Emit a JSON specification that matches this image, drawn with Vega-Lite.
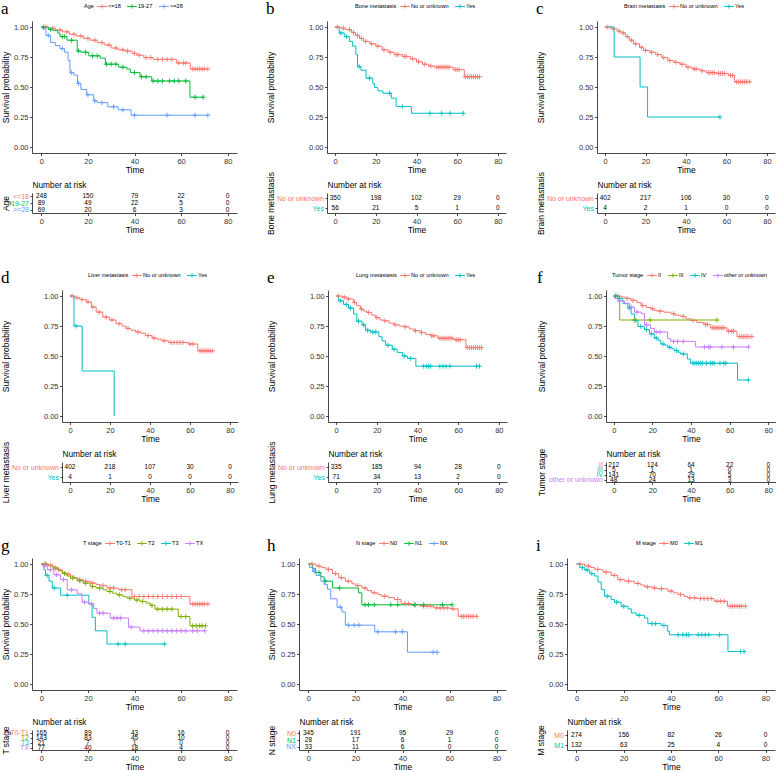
{
"$schema": "https://vega.github.io/schema/vega-lite/v6.json",
"padding": 0,
"config": {
 "font": "Liberation Sans",
 "view": {"stroke": null},
 "axis": {"grid": false, "domainColor": "#1a1a1a", "domainWidth": 0.8, "tickColor": "#1a1a1a", "tickWidth": 0.8, "tickSize": 2.5, "labelColor": "#333333", "labelFontSize": 7.5, "labelPadding": 1.5, "titleColor": "#000000", "titleFontSize": 8.5, "titleFontWeight": "normal", "titlePadding": 1, "labelFlush": false},
 "legend": {"orient": "none", "legendY": -19, "direction": "horizontal", "titleOrient": "left", "labelFontSize": 5.6, "titleFontSize": 5.6, "titleFontWeight": "normal", "titleColor": "#000000", "labelColor": "#000000", "symbolType": "M-1.4,0H1.4M0,-0.6V0.6", "symbolSize": 49, "symbolStrokeWidth": 1, "columnPadding": 4, "labelOffset": 2, "titlePadding": 4, "padding": 0},
 "title": {"fontWeight": "normal", "color": "#000000"}
},
"datasets": {
 "a": [
  {"g":"<=18","t":0,"s":1},{"g":"<=18","t":2,"s":1,"c":1},{"g":"<=18","t":3,"s":0.99},{"g":"<=18","t":5,"s":0.99,"c":1},{"g":"<=18","t":6,"s":0.975},{"g":"<=18","t":8,"s":0.975,"c":1},{"g":"<=18","t":9,"s":0.96},{"g":"<=18","t":11,"s":0.96,"c":1},{"g":"<=18","t":12,"s":0.94},{"g":"<=18","t":14,"s":0.94,"c":1},{"g":"<=18","t":15,"s":0.925},{"g":"<=18","t":17,"s":0.925,"c":1},{"g":"<=18","t":18,"s":0.905},{"g":"<=18","t":20,"s":0.905,"c":1},{"g":"<=18","t":21,"s":0.89},{"g":"<=18","t":23,"s":0.89,"c":1},{"g":"<=18","t":24,"s":0.87},{"g":"<=18","t":26,"s":0.87,"c":1},{"g":"<=18","t":27,"s":0.85},{"g":"<=18","t":29,"s":0.85,"c":1},{"g":"<=18","t":30,"s":0.825},{"g":"<=18","t":32,"s":0.825,"c":1},{"g":"<=18","t":33,"s":0.81},{"g":"<=18","t":35,"s":0.81,"c":1},{"g":"<=18","t":36,"s":0.8},{"g":"<=18","t":37,"s":0.8,"c":1},{"g":"<=18","t":39,"s":0.78},{"g":"<=18","t":40,"s":0.78,"c":1},{"g":"<=18","t":41,"s":0.765},{"g":"<=18","t":42,"s":0.765,"c":1},{"g":"<=18","t":44,"s":0.745},{"g":"<=18","t":45,"s":0.745,"c":1},{"g":"<=18","t":47,"s":0.745,"c":1},{"g":"<=18","t":48,"s":0.73},{"g":"<=18","t":50,"s":0.73,"c":1},{"g":"<=18","t":52,"s":0.73,"c":1},{"g":"<=18","t":54,"s":0.73,"c":1},{"g":"<=18","t":56,"s":0.73,"c":1},{"g":"<=18","t":58,"s":0.7},{"g":"<=18","t":59,"s":0.7,"c":1},{"g":"<=18","t":61,"s":0.7,"c":1},{"g":"<=18","t":62,"s":0.7,"c":1},{"g":"<=18","t":64,"s":0.65},{"g":"<=18","t":65,"s":0.65,"c":1},{"g":"<=18","t":66,"s":0.65,"c":1},{"g":"<=18","t":67,"s":0.65,"c":1},{"g":"<=18","t":68,"s":0.65,"c":1},{"g":"<=18","t":69,"s":0.65,"c":1},{"g":"<=18","t":70,"s":0.65,"c":1},{"g":"<=18","t":71.5,"s":0.65,"c":1},
  {"g":"19-27","t":0,"s":1},{"g":"19-27","t":1,"s":1,"c":1},{"g":"19-27","t":3,"s":0.98},{"g":"19-27","t":4,"s":0.98,"c":1},{"g":"19-27","t":5,"s":0.97},{"g":"19-27","t":7,"s":0.95},{"g":"19-27","t":8,"s":0.92},{"g":"19-27","t":9,"s":0.92,"c":1},{"g":"19-27","t":10,"s":0.92,"c":1},{"g":"19-27","t":11,"s":0.89},{"g":"19-27","t":13,"s":0.89,"c":1},{"g":"19-27","t":15.4,"s":0.8},{"g":"19-27","t":16,"s":0.8,"c":1},{"g":"19-27","t":17,"s":0.79},{"g":"19-27","t":19,"s":0.79,"c":1},{"g":"19-27","t":20.4,"s":0.76},{"g":"19-27","t":22,"s":0.76,"c":1},{"g":"19-27","t":24,"s":0.76,"c":1},{"g":"19-27","t":25.3,"s":0.74},{"g":"19-27","t":27.5,"s":0.69},{"g":"19-27","t":28,"s":0.69,"c":1},{"g":"19-27","t":30,"s":0.69,"c":1},{"g":"19-27","t":32,"s":0.69,"c":1},{"g":"19-27","t":33.2,"s":0.665},{"g":"19-27","t":35,"s":0.665,"c":1},{"g":"19-27","t":36.7,"s":0.65},{"g":"19-27","t":38.2,"s":0.62},{"g":"19-27","t":40,"s":0.62,"c":1},{"g":"19-27","t":42.4,"s":0.585},{"g":"19-27","t":43,"s":0.585,"c":1},{"g":"19-27","t":45,"s":0.585,"c":1},{"g":"19-27","t":47.4,"s":0.55},{"g":"19-27","t":48,"s":0.55,"c":1},{"g":"19-27","t":50,"s":0.55,"c":1},{"g":"19-27","t":52,"s":0.55,"c":1},{"g":"19-27","t":55,"s":0.55,"c":1},{"g":"19-27","t":57,"s":0.55,"c":1},{"g":"19-27","t":59,"s":0.55,"c":1},{"g":"19-27","t":62,"s":0.55,"c":1},{"g":"19-27","t":63.8,"s":0.415},{"g":"19-27","t":66,"s":0.415,"c":1},{"g":"19-27","t":69.5,"s":0.415,"c":1},
  {"g":">=28","t":0,"s":1},{"g":">=28","t":0.5,"s":0.985},{"g":">=28","t":2,"s":0.93},{"g":">=28","t":3,"s":0.93,"c":1},{"g":">=28","t":4,"s":0.87},{"g":">=28","t":6,"s":0.845},{"g":">=28","t":8,"s":0.82},{"g":">=28","t":9,"s":0.82,"c":1},{"g":">=28","t":10,"s":0.79},{"g":">=28","t":11.5,"s":0.72},{"g":">=28","t":12.3,"s":0.62},{"g":">=28","t":13,"s":0.62,"c":1},{"g":">=28","t":14,"s":0.6},{"g":">=28","t":15.5,"s":0.53},{"g":">=28","t":16,"s":0.53,"c":1},{"g":">=28","t":17,"s":0.48},{"g":">=28","t":19.5,"s":0.435},{"g":">=28","t":20,"s":0.435,"c":1},{"g":">=28","t":22.5,"s":0.385},{"g":">=28","t":23,"s":0.385,"c":1},{"g":">=28","t":24,"s":0.37},{"g":">=28","t":26,"s":0.37,"c":1},{"g":">=28","t":28.5,"s":0.335},{"g":">=28","t":31,"s":0.335,"c":1},{"g":">=28","t":33,"s":0.31},{"g":">=28","t":35,"s":0.31,"c":1},{"g":">=28","t":38.5,"s":0.265},{"g":">=28","t":40,"s":0.265,"c":1},{"g":">=28","t":54,"s":0.265,"c":1},{"g":">=28","t":66,"s":0.265,"c":1},{"g":">=28","t":71.5,"s":0.265,"c":1}
 ],
 "ra": [
  {"g":"<=18","t":0,"n":248},{"g":"<=18","t":20,"n":150},{"g":"<=18","t":40,"n":79},{"g":"<=18","t":60,"n":22},{"g":"<=18","t":80,"n":0},
  {"g":"19-27","t":0,"n":89},{"g":"19-27","t":20,"n":49},{"g":"19-27","t":40,"n":22},{"g":"19-27","t":60,"n":5},{"g":"19-27","t":80,"n":0},
  {"g":">=28","t":0,"n":69},{"g":">=28","t":20,"n":20},{"g":">=28","t":40,"n":6},{"g":">=28","t":60,"n":3},{"g":">=28","t":80,"n":0}
 ],
 "b": [
  {"g":"No or unknown","t":0,"s":1},{"g":"No or unknown","t":1,"s":1,"c":1},{"g":"No or unknown","t":3,"s":0.99},{"g":"No or unknown","t":4,"s":0.99,"c":1},{"g":"No or unknown","t":5,"s":0.978},{"g":"No or unknown","t":7,"s":0.978,"c":1},{"g":"No or unknown","t":8,"s":0.955},{"g":"No or unknown","t":9,"s":0.955,"c":1},{"g":"No or unknown","t":10,"s":0.93},{"g":"No or unknown","t":11,"s":0.93,"c":1},{"g":"No or unknown","t":12,"s":0.905},{"g":"No or unknown","t":13,"s":0.905,"c":1},{"g":"No or unknown","t":14,"s":0.88},{"g":"No or unknown","t":15,"s":0.88,"c":1},{"g":"No or unknown","t":17,"s":0.86},{"g":"No or unknown","t":18,"s":0.86,"c":1},{"g":"No or unknown","t":20,"s":0.84},{"g":"No or unknown","t":21,"s":0.84,"c":1},{"g":"No or unknown","t":23,"s":0.81},{"g":"No or unknown","t":24,"s":0.81,"c":1},{"g":"No or unknown","t":26,"s":0.79},{"g":"No or unknown","t":27,"s":0.79,"c":1},{"g":"No or unknown","t":29,"s":0.77},{"g":"No or unknown","t":30,"s":0.77,"c":1},{"g":"No or unknown","t":31,"s":0.77,"c":1},{"g":"No or unknown","t":33,"s":0.755},{"g":"No or unknown","t":34,"s":0.755,"c":1},{"g":"No or unknown","t":35,"s":0.755,"c":1},{"g":"No or unknown","t":37,"s":0.735},{"g":"No or unknown","t":38,"s":0.735,"c":1},{"g":"No or unknown","t":40,"s":0.71},{"g":"No or unknown","t":41,"s":0.71,"c":1},{"g":"No or unknown","t":43,"s":0.69},{"g":"No or unknown","t":44,"s":0.69,"c":1},{"g":"No or unknown","t":46,"s":0.675},{"g":"No or unknown","t":47,"s":0.675,"c":1},{"g":"No or unknown","t":49,"s":0.665},{"g":"No or unknown","t":50,"s":0.665,"c":1},{"g":"No or unknown","t":51,"s":0.665,"c":1},{"g":"No or unknown","t":52,"s":0.665,"c":1},{"g":"No or unknown","t":53,"s":0.665,"c":1},{"g":"No or unknown","t":54,"s":0.665,"c":1},{"g":"No or unknown","t":55,"s":0.665,"c":1},{"g":"No or unknown","t":56,"s":0.665,"c":1},{"g":"No or unknown","t":58,"s":0.645},{"g":"No or unknown","t":59,"s":0.645,"c":1},{"g":"No or unknown","t":60,"s":0.645,"c":1},{"g":"No or unknown","t":61,"s":0.645,"c":1},{"g":"No or unknown","t":63.5,"s":0.585},{"g":"No or unknown","t":64,"s":0.585,"c":1},{"g":"No or unknown","t":65,"s":0.585,"c":1},{"g":"No or unknown","t":66,"s":0.585,"c":1},{"g":"No or unknown","t":67,"s":0.585,"c":1},{"g":"No or unknown","t":68,"s":0.585,"c":1},{"g":"No or unknown","t":69,"s":0.585,"c":1},{"g":"No or unknown","t":70,"s":0.585,"c":1},{"g":"No or unknown","t":71,"s":0.585,"c":1},
  {"g":"Yes","t":0,"s":1},{"g":"Yes","t":2,"s":0.95},{"g":"Yes","t":2.8,"s":0.95,"c":1},{"g":"Yes","t":4.5,"s":0.92},{"g":"Yes","t":5.6,"s":0.92,"c":1},{"g":"Yes","t":7,"s":0.88},{"g":"Yes","t":8.6,"s":0.84},{"g":"Yes","t":10.2,"s":0.77},{"g":"Yes","t":11,"s":0.67},{"g":"Yes","t":11.8,"s":0.67,"c":1},{"g":"Yes","t":12.7,"s":0.64},{"g":"Yes","t":15.2,"s":0.574},{"g":"Yes","t":16.9,"s":0.574,"c":1},{"g":"Yes","t":18.5,"s":0.53},{"g":"Yes","t":19.3,"s":0.496},{"g":"Yes","t":21,"s":0.468},{"g":"Yes","t":23.5,"s":0.448},{"g":"Yes","t":26.8,"s":0.448,"c":1},{"g":"Yes","t":27.6,"s":0.407},{"g":"Yes","t":30,"s":0.337},{"g":"Yes","t":33,"s":0.337,"c":1},{"g":"Yes","t":37.5,"s":0.281},{"g":"Yes","t":46.6,"s":0.281,"c":1},{"g":"Yes","t":52.4,"s":0.281,"c":1},{"g":"Yes","t":56.5,"s":0.281,"c":1},{"g":"Yes","t":63,"s":0.281,"c":1}
 ],
 "rb": [
  {"g":"No or unknown","t":0,"n":350},{"g":"No or unknown","t":20,"n":198},{"g":"No or unknown","t":40,"n":102},{"g":"No or unknown","t":60,"n":29},{"g":"No or unknown","t":80,"n":0},
  {"g":"Yes","t":0,"n":56},{"g":"Yes","t":20,"n":21},{"g":"Yes","t":40,"n":5},{"g":"Yes","t":60,"n":1},{"g":"Yes","t":80,"n":0}
 ],
 "c": [
  {"g":"No or unknown","t":0,"s":1},{"g":"No or unknown","t":1,"s":1,"c":1},{"g":"No or unknown","t":3,"s":0.985},{"g":"No or unknown","t":4,"s":0.985,"c":1},{"g":"No or unknown","t":6,"s":0.965},{"g":"No or unknown","t":7,"s":0.965,"c":1},{"g":"No or unknown","t":8,"s":0.95},{"g":"No or unknown","t":9,"s":0.95,"c":1},{"g":"No or unknown","t":10,"s":0.92},{"g":"No or unknown","t":11,"s":0.92,"c":1},{"g":"No or unknown","t":12,"s":0.89},{"g":"No or unknown","t":13,"s":0.89,"c":1},{"g":"No or unknown","t":14,"s":0.86},{"g":"No or unknown","t":15,"s":0.86,"c":1},{"g":"No or unknown","t":17,"s":0.83},{"g":"No or unknown","t":18,"s":0.83,"c":1},{"g":"No or unknown","t":19,"s":0.805},{"g":"No or unknown","t":20,"s":0.805,"c":1},{"g":"No or unknown","t":22,"s":0.79},{"g":"No or unknown","t":23,"s":0.79,"c":1},{"g":"No or unknown","t":25,"s":0.77},{"g":"No or unknown","t":26,"s":0.77,"c":1},{"g":"No or unknown","t":28,"s":0.745},{"g":"No or unknown","t":29,"s":0.745,"c":1},{"g":"No or unknown","t":31,"s":0.72},{"g":"No or unknown","t":32,"s":0.72,"c":1},{"g":"No or unknown","t":34,"s":0.705},{"g":"No or unknown","t":35,"s":0.705,"c":1},{"g":"No or unknown","t":37,"s":0.69},{"g":"No or unknown","t":38,"s":0.69,"c":1},{"g":"No or unknown","t":40,"s":0.665},{"g":"No or unknown","t":41,"s":0.665,"c":1},{"g":"No or unknown","t":43,"s":0.65},{"g":"No or unknown","t":44,"s":0.65,"c":1},{"g":"No or unknown","t":45,"s":0.65,"c":1},{"g":"No or unknown","t":47,"s":0.635},{"g":"No or unknown","t":48,"s":0.635,"c":1},{"g":"No or unknown","t":50,"s":0.62},{"g":"No or unknown","t":51,"s":0.62,"c":1},{"g":"No or unknown","t":52,"s":0.62,"c":1},{"g":"No or unknown","t":53,"s":0.62,"c":1},{"g":"No or unknown","t":54,"s":0.62,"c":1},{"g":"No or unknown","t":55,"s":0.613},{"g":"No or unknown","t":56,"s":0.613,"c":1},{"g":"No or unknown","t":57,"s":0.613,"c":1},{"g":"No or unknown","t":58,"s":0.613,"c":1},{"g":"No or unknown","t":59,"s":0.613,"c":1},{"g":"No or unknown","t":61,"s":0.597},{"g":"No or unknown","t":62,"s":0.597,"c":1},{"g":"No or unknown","t":63,"s":0.597,"c":1},{"g":"No or unknown","t":64,"s":0.543},{"g":"No or unknown","t":65,"s":0.543,"c":1},{"g":"No or unknown","t":66,"s":0.543,"c":1},{"g":"No or unknown","t":67,"s":0.543,"c":1},{"g":"No or unknown","t":68,"s":0.543,"c":1},{"g":"No or unknown","t":69,"s":0.543,"c":1},{"g":"No or unknown","t":70,"s":0.543,"c":1},{"g":"No or unknown","t":71.5,"s":0.543,"c":1},
  {"g":"Yes","t":0,"s":1},{"g":"Yes","t":4.5,"s":0.75},{"g":"Yes","t":17.3,"s":0.5},{"g":"Yes","t":21,"s":0.25},{"g":"Yes","t":56.8,"s":0.25,"c":1}
 ],
 "rc": [
  {"g":"No or unknown","t":0,"n":402},{"g":"No or unknown","t":20,"n":217},{"g":"No or unknown","t":40,"n":106},{"g":"No or unknown","t":60,"n":30},{"g":"No or unknown","t":80,"n":0},
  {"g":"Yes","t":0,"n":4},{"g":"Yes","t":20,"n":2},{"g":"Yes","t":40,"n":1},{"g":"Yes","t":60,"n":0},{"g":"Yes","t":80,"n":0}
 ],
 "d": [
  {"g":"No or unknown","t":0,"s":1},{"g":"No or unknown","t":1,"s":1,"c":1},{"g":"No or unknown","t":2.5,"s":0.985},{"g":"No or unknown","t":3.5,"s":0.985,"c":1},{"g":"No or unknown","t":4.9,"s":0.97},{"g":"No or unknown","t":6,"s":0.97,"c":1},{"g":"No or unknown","t":8.2,"s":0.95},{"g":"No or unknown","t":9,"s":0.95,"c":1},{"g":"No or unknown","t":10.7,"s":0.908},{"g":"No or unknown","t":11.5,"s":0.908,"c":1},{"g":"No or unknown","t":13.1,"s":0.866},{"g":"No or unknown","t":14.5,"s":0.866,"c":1},{"g":"No or unknown","t":16.4,"s":0.824},{"g":"No or unknown","t":18,"s":0.824,"c":1},{"g":"No or unknown","t":19.7,"s":0.8},{"g":"No or unknown","t":21,"s":0.8,"c":1},{"g":"No or unknown","t":23,"s":0.77},{"g":"No or unknown","t":24.5,"s":0.77,"c":1},{"g":"No or unknown","t":26,"s":0.75},{"g":"No or unknown","t":27.9,"s":0.73},{"g":"No or unknown","t":29,"s":0.73,"c":1},{"g":"No or unknown","t":30.5,"s":0.715},{"g":"No or unknown","t":32.8,"s":0.7},{"g":"No or unknown","t":34,"s":0.7,"c":1},{"g":"No or unknown","t":35.5,"s":0.69},{"g":"No or unknown","t":37.7,"s":0.67},{"g":"No or unknown","t":39,"s":0.67,"c":1},{"g":"No or unknown","t":41,"s":0.65},{"g":"No or unknown","t":42,"s":0.65,"c":1},{"g":"No or unknown","t":43.5,"s":0.64},{"g":"No or unknown","t":45.9,"s":0.627},{"g":"No or unknown","t":47,"s":0.627,"c":1},{"g":"No or unknown","t":49.2,"s":0.613},{"g":"No or unknown","t":50.5,"s":0.613,"c":1},{"g":"No or unknown","t":52,"s":0.613,"c":1},{"g":"No or unknown","t":53.5,"s":0.613,"c":1},{"g":"No or unknown","t":55,"s":0.613,"c":1},{"g":"No or unknown","t":56.5,"s":0.613,"c":1},{"g":"No or unknown","t":59,"s":0.6},{"g":"No or unknown","t":60,"s":0.6,"c":1},{"g":"No or unknown","t":61.5,"s":0.6,"c":1},{"g":"No or unknown","t":63.9,"s":0.543},{"g":"No or unknown","t":65,"s":0.543,"c":1},{"g":"No or unknown","t":66,"s":0.543,"c":1},{"g":"No or unknown","t":67,"s":0.543,"c":1},{"g":"No or unknown","t":68,"s":0.543,"c":1},{"g":"No or unknown","t":69,"s":0.543,"c":1},{"g":"No or unknown","t":70,"s":0.543,"c":1},{"g":"No or unknown","t":71.3,"s":0.543,"c":1},
  {"g":"Yes","t":0,"s":1},{"g":"Yes","t":2,"s":0.75},{"g":"Yes","t":3,"s":0.75,"c":1},{"g":"Yes","t":6.1,"s":0.375},{"g":"Yes","t":22.1,"s":0}
 ],
 "rd": [
  {"g":"No or unknown","t":0,"n":402},{"g":"No or unknown","t":20,"n":218},{"g":"No or unknown","t":40,"n":107},{"g":"No or unknown","t":60,"n":30},{"g":"No or unknown","t":80,"n":0},
  {"g":"Yes","t":0,"n":4},{"g":"Yes","t":20,"n":1},{"g":"Yes","t":40,"n":0},{"g":"Yes","t":60,"n":0},{"g":"Yes","t":80,"n":0}
 ],
 "e": [
  {"g":"No or unknown","t":0,"s":1},{"g":"No or unknown","t":1,"s":1,"c":1},{"g":"No or unknown","t":3,"s":0.99},{"g":"No or unknown","t":4,"s":0.99,"c":1},{"g":"No or unknown","t":5.3,"s":0.975},{"g":"No or unknown","t":6,"s":0.975,"c":1},{"g":"No or unknown","t":8.6,"s":0.947},{"g":"No or unknown","t":9,"s":0.947,"c":1},{"g":"No or unknown","t":10,"s":0.92},{"g":"No or unknown","t":11.9,"s":0.89},{"g":"No or unknown","t":12.5,"s":0.89,"c":1},{"g":"No or unknown","t":13.5,"s":0.875},{"g":"No or unknown","t":15.2,"s":0.863},{"g":"No or unknown","t":16,"s":0.863,"c":1},{"g":"No or unknown","t":17.5,"s":0.84},{"g":"No or unknown","t":19.3,"s":0.82},{"g":"No or unknown","t":20,"s":0.82,"c":1},{"g":"No or unknown","t":21.5,"s":0.8},{"g":"No or unknown","t":23.5,"s":0.793},{"g":"No or unknown","t":24,"s":0.793,"c":1},{"g":"No or unknown","t":26,"s":0.775},{"g":"No or unknown","t":28.4,"s":0.76},{"g":"No or unknown","t":29,"s":0.76,"c":1},{"g":"No or unknown","t":31,"s":0.75},{"g":"No or unknown","t":33.4,"s":0.743},{"g":"No or unknown","t":34,"s":0.743,"c":1},{"g":"No or unknown","t":36,"s":0.725},{"g":"No or unknown","t":38.3,"s":0.71},{"g":"No or unknown","t":39,"s":0.71,"c":1},{"g":"No or unknown","t":41.7,"s":0.695},{"g":"No or unknown","t":42,"s":0.695,"c":1},{"g":"No or unknown","t":44,"s":0.68},{"g":"No or unknown","t":46.6,"s":0.668},{"g":"No or unknown","t":47,"s":0.668,"c":1},{"g":"No or unknown","t":48,"s":0.668,"c":1},{"g":"No or unknown","t":50,"s":0.648},{"g":"No or unknown","t":51,"s":0.648,"c":1},{"g":"No or unknown","t":52,"s":0.648,"c":1},{"g":"No or unknown","t":53,"s":0.648,"c":1},{"g":"No or unknown","t":54,"s":0.648,"c":1},{"g":"No or unknown","t":55,"s":0.648,"c":1},{"g":"No or unknown","t":56,"s":0.648,"c":1},{"g":"No or unknown","t":57,"s":0.648,"c":1},{"g":"No or unknown","t":58,"s":0.635},{"g":"No or unknown","t":59,"s":0.635,"c":1},{"g":"No or unknown","t":60,"s":0.635,"c":1},{"g":"No or unknown","t":61,"s":0.635,"c":1},{"g":"No or unknown","t":63.8,"s":0.57},{"g":"No or unknown","t":64.5,"s":0.57,"c":1},{"g":"No or unknown","t":65.5,"s":0.57,"c":1},{"g":"No or unknown","t":66.5,"s":0.57,"c":1},{"g":"No or unknown","t":67.5,"s":0.57,"c":1},{"g":"No or unknown","t":68.5,"s":0.57,"c":1},{"g":"No or unknown","t":69.5,"s":0.57,"c":1},{"g":"No or unknown","t":70.5,"s":0.57,"c":1},{"g":"No or unknown","t":71.5,"s":0.57,"c":1},
  {"g":"Yes","t":0,"s":1},{"g":"Yes","t":1.2,"s":0.96},{"g":"Yes","t":2,"s":0.96,"c":1},{"g":"Yes","t":3.6,"s":0.93},{"g":"Yes","t":5,"s":0.93,"c":1},{"g":"Yes","t":6.1,"s":0.9},{"g":"Yes","t":7,"s":0.9,"c":1},{"g":"Yes","t":8.6,"s":0.85},{"g":"Yes","t":10.2,"s":0.79},{"g":"Yes","t":11,"s":0.79,"c":1},{"g":"Yes","t":12.7,"s":0.76},{"g":"Yes","t":13.5,"s":0.76,"c":1},{"g":"Yes","t":14.4,"s":0.715},{"g":"Yes","t":15.5,"s":0.715,"c":1},{"g":"Yes","t":16.9,"s":0.7},{"g":"Yes","t":18,"s":0.7,"c":1},{"g":"Yes","t":19.5,"s":0.7,"c":1},{"g":"Yes","t":21,"s":0.66},{"g":"Yes","t":22.6,"s":0.626},{"g":"Yes","t":24.3,"s":0.59},{"g":"Yes","t":25.5,"s":0.59,"c":1},{"g":"Yes","t":27.6,"s":0.556},{"g":"Yes","t":28.5,"s":0.556,"c":1},{"g":"Yes","t":30,"s":0.53},{"g":"Yes","t":32.6,"s":0.5},{"g":"Yes","t":33.5,"s":0.5,"c":1},{"g":"Yes","t":35,"s":0.48},{"g":"Yes","t":36.5,"s":0.48,"c":1},{"g":"Yes","t":39.2,"s":0.415},{"g":"Yes","t":43,"s":0.415,"c":1},{"g":"Yes","t":44.5,"s":0.415,"c":1},{"g":"Yes","t":45.5,"s":0.415,"c":1},{"g":"Yes","t":46.5,"s":0.415,"c":1},{"g":"Yes","t":51,"s":0.415,"c":1},{"g":"Yes","t":52.5,"s":0.415,"c":1},{"g":"Yes","t":54,"s":0.415,"c":1},{"g":"Yes","t":56,"s":0.415,"c":1},{"g":"Yes","t":69,"s":0.415,"c":1},{"g":"Yes","t":70.5,"s":0.415,"c":1}
 ],
 "re": [
  {"g":"No or unknown","t":0,"n":335},{"g":"No or unknown","t":20,"n":185},{"g":"No or unknown","t":40,"n":94},{"g":"No or unknown","t":60,"n":28},{"g":"No or unknown","t":80,"n":0},
  {"g":"Yes","t":0,"n":71},{"g":"Yes","t":20,"n":34},{"g":"Yes","t":40,"n":13},{"g":"Yes","t":60,"n":2},{"g":"Yes","t":80,"n":0}
 ],
 "f": [
  {"g":"II","t":0,"s":1},{"g":"II","t":2,"s":1,"c":1},{"g":"II","t":4,"s":0.99},{"g":"II","t":6,"s":0.98},{"g":"II","t":7,"s":0.98,"c":1},{"g":"II","t":9,"s":0.964},{"g":"II","t":10,"s":0.964,"c":1},{"g":"II","t":12,"s":0.945},{"g":"II","t":14.2,"s":0.92},{"g":"II","t":15,"s":0.92,"c":1},{"g":"II","t":17,"s":0.905},{"g":"II","t":19.3,"s":0.894},{"g":"II","t":20,"s":0.894,"c":1},{"g":"II","t":21,"s":0.88},{"g":"II","t":22.7,"s":0.874},{"g":"II","t":24,"s":0.874,"c":1},{"g":"II","t":26,"s":0.865},{"g":"II","t":29.6,"s":0.852},{"g":"II","t":31,"s":0.852,"c":1},{"g":"II","t":32,"s":0.84},{"g":"II","t":34.7,"s":0.83},{"g":"II","t":36,"s":0.83,"c":1},{"g":"II","t":37.5,"s":0.81},{"g":"II","t":39.8,"s":0.796},{"g":"II","t":41,"s":0.796,"c":1},{"g":"II","t":43,"s":0.78},{"g":"II","t":46.7,"s":0.763},{"g":"II","t":47.5,"s":0.763,"c":1},{"g":"II","t":48.5,"s":0.763,"c":1},{"g":"II","t":50,"s":0.735},{"g":"II","t":51,"s":0.735,"c":1},{"g":"II","t":52,"s":0.735,"c":1},{"g":"II","t":53,"s":0.735,"c":1},{"g":"II","t":54,"s":0.735,"c":1},{"g":"II","t":55,"s":0.735,"c":1},{"g":"II","t":56,"s":0.735,"c":1},{"g":"II","t":57,"s":0.735,"c":1},{"g":"II","t":58.6,"s":0.707},{"g":"II","t":59.5,"s":0.707,"c":1},{"g":"II","t":61,"s":0.707,"c":1},{"g":"II","t":62,"s":0.707,"c":1},{"g":"II","t":63.8,"s":0.662},{"g":"II","t":65,"s":0.662,"c":1},{"g":"II","t":66,"s":0.662,"c":1},{"g":"II","t":67,"s":0.662,"c":1},{"g":"II","t":68,"s":0.662,"c":1},{"g":"II","t":69,"s":0.662,"c":1},{"g":"II","t":70,"s":0.662,"c":1},{"g":"II","t":71.5,"s":0.662,"c":1},
  {"g":"III","t":0,"s":1},{"g":"III","t":1,"s":1,"c":1},{"g":"III","t":3.1,"s":0.8},{"g":"III","t":10.8,"s":0.8,"c":1},{"g":"III","t":18.8,"s":0.8,"c":1},{"g":"III","t":53.5,"s":0.8,"c":1},
  {"g":"IV","t":0,"s":1},{"g":"IV","t":1,"s":1,"c":1},{"g":"IV","t":2.2,"s":0.978},{"g":"IV","t":3,"s":0.978,"c":1},{"g":"IV","t":4.8,"s":0.936},{"g":"IV","t":7.3,"s":0.9},{"g":"IV","t":8,"s":0.9,"c":1},{"g":"IV","t":9,"s":0.85},{"g":"IV","t":10.8,"s":0.796},{"g":"IV","t":11.5,"s":0.796,"c":1},{"g":"IV","t":12.5,"s":0.746},{"g":"IV","t":14,"s":0.746,"c":1},{"g":"IV","t":15.9,"s":0.72},{"g":"IV","t":17,"s":0.72,"c":1},{"g":"IV","t":18.5,"s":0.684},{"g":"IV","t":19.5,"s":0.684,"c":1},{"g":"IV","t":21,"s":0.65},{"g":"IV","t":22,"s":0.65,"c":1},{"g":"IV","t":23,"s":0.63},{"g":"IV","t":24.4,"s":0.6},{"g":"IV","t":25.5,"s":0.6,"c":1},{"g":"IV","t":26.5,"s":0.59},{"g":"IV","t":27.9,"s":0.573},{"g":"IV","t":29,"s":0.573,"c":1},{"g":"IV","t":30,"s":0.56},{"g":"IV","t":31.3,"s":0.545},{"g":"IV","t":32.5,"s":0.545,"c":1},{"g":"IV","t":33.5,"s":0.53},{"g":"IV","t":34.7,"s":0.517},{"g":"IV","t":36,"s":0.517,"c":1},{"g":"IV","t":38.1,"s":0.475},{"g":"IV","t":39.8,"s":0.44},{"g":"IV","t":41,"s":0.44,"c":1},{"g":"IV","t":42,"s":0.44,"c":1},{"g":"IV","t":43,"s":0.44,"c":1},{"g":"IV","t":44,"s":0.44,"c":1},{"g":"IV","t":45,"s":0.44,"c":1},{"g":"IV","t":46,"s":0.44,"c":1},{"g":"IV","t":48,"s":0.44,"c":1},{"g":"IV","t":50,"s":0.44,"c":1},{"g":"IV","t":51,"s":0.44,"c":1},{"g":"IV","t":52,"s":0.44,"c":1},{"g":"IV","t":55,"s":0.44,"c":1},{"g":"IV","t":57,"s":0.44,"c":1},{"g":"IV","t":58,"s":0.44,"c":1},{"g":"IV","t":64.1,"s":0.3},{"g":"IV","t":69.7,"s":0.3,"c":1},
  {"g":"other or unknown","t":0,"s":1},{"g":"other or unknown","t":0.5,"s":0.98},{"g":"other or unknown","t":2.2,"s":0.958},{"g":"other or unknown","t":3,"s":0.958,"c":1},{"g":"other or unknown","t":5.6,"s":0.94},{"g":"other or unknown","t":8.2,"s":0.908},{"g":"other or unknown","t":9,"s":0.908,"c":1},{"g":"other or unknown","t":10.8,"s":0.866},{"g":"other or unknown","t":12,"s":0.866,"c":1},{"g":"other or unknown","t":14.2,"s":0.852},{"g":"other or unknown","t":15.9,"s":0.76},{"g":"other or unknown","t":17,"s":0.76,"c":1},{"g":"other or unknown","t":19,"s":0.73},{"g":"other or unknown","t":21,"s":0.7},{"g":"other or unknown","t":22,"s":0.7,"c":1},{"g":"other or unknown","t":24,"s":0.7,"c":1},{"g":"other or unknown","t":27.9,"s":0.643},{"g":"other or unknown","t":29.6,"s":0.622},{"g":"other or unknown","t":31,"s":0.622,"c":1},{"g":"other or unknown","t":33,"s":0.622,"c":1},{"g":"other or unknown","t":36,"s":0.622,"c":1},{"g":"other or unknown","t":42.4,"s":0.575},{"g":"other or unknown","t":47,"s":0.575,"c":1},{"g":"other or unknown","t":49,"s":0.575,"c":1},{"g":"other or unknown","t":50,"s":0.575,"c":1},{"g":"other or unknown","t":56,"s":0.575,"c":1},{"g":"other or unknown","t":62,"s":0.575,"c":1},{"g":"other or unknown","t":69.8,"s":0.575,"c":1}
 ],
 "rf": [
  {"g":"II","t":0,"n":212},{"g":"II","t":20,"n":124},{"g":"II","t":40,"n":64},{"g":"II","t":60,"n":22},{"g":"II","t":80,"n":0},
  {"g":"III","t":0,"n":5},{"g":"III","t":20,"n":1},{"g":"III","t":40,"n":1},{"g":"III","t":60,"n":0},{"g":"III","t":80,"n":0},
  {"g":"IV","t":0,"n":141},{"g":"IV","t":20,"n":70},{"g":"IV","t":40,"n":29},{"g":"IV","t":60,"n":5},{"g":"IV","t":80,"n":0},
  {"g":"other or unknown","t":0,"n":48},{"g":"other or unknown","t":20,"n":24},{"g":"other or unknown","t":40,"n":13},{"g":"other or unknown","t":60,"n":3},{"g":"other or unknown","t":80,"n":0}
 ],
 "g": [
  {"g":"T0-T1","t":0,"s":1},{"g":"T0-T1","t":2,"s":1,"c":1},{"g":"T0-T1","t":3,"s":0.99},{"g":"T0-T1","t":4,"s":0.99,"c":1},{"g":"T0-T1","t":5,"s":0.975},{"g":"T0-T1","t":6.8,"s":0.952},{"g":"T0-T1","t":7.5,"s":0.952,"c":1},{"g":"T0-T1","t":9,"s":0.93},{"g":"T0-T1","t":10.5,"s":0.915},{"g":"T0-T1","t":11.5,"s":0.915,"c":1},{"g":"T0-T1","t":12.5,"s":0.9},{"g":"T0-T1","t":14,"s":0.885},{"g":"T0-T1","t":15.4,"s":0.869},{"g":"T0-T1","t":16.5,"s":0.869,"c":1},{"g":"T0-T1","t":18,"s":0.855},{"g":"T0-T1","t":19,"s":0.855,"c":1},{"g":"T0-T1","t":21,"s":0.841},{"g":"T0-T1","t":22,"s":0.841,"c":1},{"g":"T0-T1","t":23.5,"s":0.83},{"g":"T0-T1","t":25.3,"s":0.82},{"g":"T0-T1","t":26.5,"s":0.82,"c":1},{"g":"T0-T1","t":28.2,"s":0.8},{"g":"T0-T1","t":29.5,"s":0.8,"c":1},{"g":"T0-T1","t":31,"s":0.8,"c":1},{"g":"T0-T1","t":33,"s":0.786},{"g":"T0-T1","t":34.5,"s":0.786,"c":1},{"g":"T0-T1","t":36,"s":0.786,"c":1},{"g":"T0-T1","t":38.9,"s":0.729},{"g":"T0-T1","t":40,"s":0.729,"c":1},{"g":"T0-T1","t":42,"s":0.729,"c":1},{"g":"T0-T1","t":44,"s":0.729,"c":1},{"g":"T0-T1","t":46,"s":0.729,"c":1},{"g":"T0-T1","t":48,"s":0.729,"c":1},{"g":"T0-T1","t":50,"s":0.729,"c":1},{"g":"T0-T1","t":52,"s":0.729,"c":1},{"g":"T0-T1","t":54,"s":0.729,"c":1},{"g":"T0-T1","t":56,"s":0.729,"c":1},{"g":"T0-T1","t":58,"s":0.729,"c":1},{"g":"T0-T1","t":60,"s":0.729,"c":1},{"g":"T0-T1","t":63.8,"s":0.666},{"g":"T0-T1","t":65,"s":0.666,"c":1},{"g":"T0-T1","t":66,"s":0.666,"c":1},{"g":"T0-T1","t":67,"s":0.666,"c":1},{"g":"T0-T1","t":68,"s":0.666,"c":1},{"g":"T0-T1","t":69,"s":0.666,"c":1},{"g":"T0-T1","t":70,"s":0.666,"c":1},{"g":"T0-T1","t":71.5,"s":0.666,"c":1},
  {"g":"T2","t":0,"s":1},{"g":"T2","t":1.5,"s":1,"c":1},{"g":"T2","t":3,"s":0.985},{"g":"T2","t":5,"s":0.965},{"g":"T2","t":6,"s":0.965,"c":1},{"g":"T2","t":7.5,"s":0.945},{"g":"T2","t":9,"s":0.92},{"g":"T2","t":10,"s":0.92,"c":1},{"g":"T2","t":11,"s":0.9},{"g":"T2","t":12.5,"s":0.883},{"g":"T2","t":13.5,"s":0.883,"c":1},{"g":"T2","t":15.4,"s":0.86},{"g":"T2","t":16.5,"s":0.86,"c":1},{"g":"T2","t":18,"s":0.84},{"g":"T2","t":19,"s":0.84,"c":1},{"g":"T2","t":21,"s":0.813},{"g":"T2","t":22,"s":0.813,"c":1},{"g":"T2","t":23.5,"s":0.8},{"g":"T2","t":25,"s":0.8,"c":1},{"g":"T2","t":26.5,"s":0.785},{"g":"T2","t":28.2,"s":0.771},{"g":"T2","t":29.5,"s":0.771,"c":1},{"g":"T2","t":30.5,"s":0.757},{"g":"T2","t":32.5,"s":0.743},{"g":"T2","t":33.5,"s":0.743,"c":1},{"g":"T2","t":35,"s":0.73},{"g":"T2","t":36.7,"s":0.716},{"g":"T2","t":38,"s":0.716,"c":1},{"g":"T2","t":40,"s":0.7},{"g":"T2","t":41,"s":0.7,"c":1},{"g":"T2","t":42.4,"s":0.688},{"g":"T2","t":43.5,"s":0.688,"c":1},{"g":"T2","t":45,"s":0.675},{"g":"T2","t":46.7,"s":0.655},{"g":"T2","t":47.5,"s":0.655,"c":1},{"g":"T2","t":48.8,"s":0.624},{"g":"T2","t":50,"s":0.624,"c":1},{"g":"T2","t":52,"s":0.624,"c":1},{"g":"T2","t":54,"s":0.624,"c":1},{"g":"T2","t":56,"s":0.624,"c":1},{"g":"T2","t":58.8,"s":0.562},{"g":"T2","t":60,"s":0.562,"c":1},{"g":"T2","t":62,"s":0.562,"c":1},{"g":"T2","t":63.8,"s":0.485},{"g":"T2","t":65,"s":0.485,"c":1},{"g":"T2","t":66.5,"s":0.485,"c":1},{"g":"T2","t":68,"s":0.485,"c":1},{"g":"T2","t":69,"s":0.485,"c":1},{"g":"T2","t":70.5,"s":0.485,"c":1},
  {"g":"T3","t":0,"s":1},{"g":"T3","t":1.1,"s":0.952},{"g":"T3","t":1.8,"s":0.905},{"g":"T3","t":2.5,"s":0.905,"c":1},{"g":"T3","t":3.3,"s":0.857},{"g":"T3","t":4.7,"s":0.8},{"g":"T3","t":5.5,"s":0.8,"c":1},{"g":"T3","t":8.3,"s":0.74},{"g":"T3","t":11.1,"s":0.74,"c":1},{"g":"T3","t":20.4,"s":0.667},{"g":"T3","t":21.8,"s":0.556},{"g":"T3","t":23.2,"s":0.443},{"g":"T3","t":28.2,"s":0.333},{"g":"T3","t":33,"s":0.333,"c":1},{"g":"T3","t":36,"s":0.333,"c":1},{"g":"T3","t":53,"s":0.333,"c":1},
  {"g":"TX","t":0,"s":1},{"g":"TX","t":0.5,"s":0.987},{"g":"TX","t":1.5,"s":0.987,"c":1},{"g":"TX","t":2.6,"s":0.953},{"g":"TX","t":4,"s":0.953,"c":1},{"g":"TX","t":5.4,"s":0.91},{"g":"TX","t":6.5,"s":0.91,"c":1},{"g":"TX","t":8.3,"s":0.87},{"g":"TX","t":9.5,"s":0.87,"c":1},{"g":"TX","t":11.1,"s":0.785},{"g":"TX","t":13,"s":0.785,"c":1},{"g":"TX","t":15.4,"s":0.752},{"g":"TX","t":17.5,"s":0.682},{"g":"TX","t":18.5,"s":0.682,"c":1},{"g":"TX","t":20.4,"s":0.668},{"g":"TX","t":21.5,"s":0.668,"c":1},{"g":"TX","t":22.5,"s":0.63},{"g":"TX","t":23.9,"s":0.59},{"g":"TX","t":25,"s":0.59,"c":1},{"g":"TX","t":26.5,"s":0.59,"c":1},{"g":"TX","t":29.6,"s":0.55},{"g":"TX","t":31,"s":0.55,"c":1},{"g":"TX","t":32.5,"s":0.55,"c":1},{"g":"TX","t":34,"s":0.55,"c":1},{"g":"TX","t":37.4,"s":0.474},{"g":"TX","t":38.5,"s":0.474,"c":1},{"g":"TX","t":42.4,"s":0.443},{"g":"TX","t":44,"s":0.443,"c":1},{"g":"TX","t":46,"s":0.443,"c":1},{"g":"TX","t":48,"s":0.443,"c":1},{"g":"TX","t":50,"s":0.443,"c":1},{"g":"TX","t":52,"s":0.443,"c":1},{"g":"TX","t":54,"s":0.443,"c":1},{"g":"TX","t":56,"s":0.443,"c":1},{"g":"TX","t":58,"s":0.443,"c":1},{"g":"TX","t":60,"s":0.443,"c":1},{"g":"TX","t":62,"s":0.443,"c":1},{"g":"TX","t":65,"s":0.443,"c":1},{"g":"TX","t":67,"s":0.443,"c":1},{"g":"TX","t":70.2,"s":0.443,"c":1}
 ],
 "rg": [
  {"g":"T0-T1","t":0,"n":165},{"g":"T0-T1","t":20,"n":89},{"g":"T0-T1","t":40,"n":43},{"g":"T0-T1","t":60,"n":16},{"g":"T0-T1","t":80,"n":0},
  {"g":"T2","t":0,"n":143},{"g":"T2","t":20,"n":83},{"g":"T2","t":40,"n":45},{"g":"T2","t":60,"n":10},{"g":"T2","t":80,"n":0},
  {"g":"T3","t":0,"n":21},{"g":"T3","t":20,"n":7},{"g":"T3","t":40,"n":1},{"g":"T3","t":60,"n":0},{"g":"T3","t":80,"n":0},
  {"g":"TX","t":0,"n":77},{"g":"TX","t":20,"n":40},{"g":"TX","t":40,"n":18},{"g":"TX","t":60,"n":4},{"g":"TX","t":80,"n":0}
 ],
 "h": [
  {"g":"N0","t":0,"s":1},{"g":"N0","t":1.5,"s":1,"c":1},{"g":"N0","t":3.2,"s":0.983},{"g":"N0","t":4.5,"s":0.983,"c":1},{"g":"N0","t":5.5,"s":0.97},{"g":"N0","t":7.4,"s":0.955},{"g":"N0","t":8.5,"s":0.955,"c":1},{"g":"N0","t":10.2,"s":0.92},{"g":"N0","t":11.5,"s":0.92,"c":1},{"g":"N0","t":12.9,"s":0.885},{"g":"N0","t":14,"s":0.885,"c":1},{"g":"N0","t":15.7,"s":0.857},{"g":"N0","t":17,"s":0.857,"c":1},{"g":"N0","t":18.5,"s":0.835},{"g":"N0","t":19.9,"s":0.82},{"g":"N0","t":21,"s":0.82,"c":1},{"g":"N0","t":22.7,"s":0.8},{"g":"N0","t":24,"s":0.8,"c":1},{"g":"N0","t":25,"s":0.78},{"g":"N0","t":26.8,"s":0.76},{"g":"N0","t":28,"s":0.76,"c":1},{"g":"N0","t":29.5,"s":0.745},{"g":"N0","t":31,"s":0.732},{"g":"N0","t":32.5,"s":0.732,"c":1},{"g":"N0","t":34,"s":0.72},{"g":"N0","t":36.6,"s":0.704},{"g":"N0","t":38,"s":0.704,"c":1},{"g":"N0","t":39.4,"s":0.67},{"g":"N0","t":41,"s":0.67,"c":1},{"g":"N0","t":42.5,"s":0.67,"c":1},{"g":"N0","t":44,"s":0.66},{"g":"N0","t":45.5,"s":0.66,"c":1},{"g":"N0","t":47.7,"s":0.648},{"g":"N0","t":49,"s":0.648,"c":1},{"g":"N0","t":50.5,"s":0.648,"c":1},{"g":"N0","t":52,"s":0.648,"c":1},{"g":"N0","t":53.3,"s":0.634},{"g":"N0","t":54.5,"s":0.634,"c":1},{"g":"N0","t":56,"s":0.634,"c":1},{"g":"N0","t":57.5,"s":0.634,"c":1},{"g":"N0","t":59,"s":0.634,"c":1},{"g":"N0","t":60.2,"s":0.626},{"g":"N0","t":61.5,"s":0.626,"c":1},{"g":"N0","t":63.7,"s":0.564},{"g":"N0","t":65,"s":0.564,"c":1},{"g":"N0","t":66,"s":0.564,"c":1},{"g":"N0","t":67,"s":0.564,"c":1},{"g":"N0","t":68,"s":0.564,"c":1},{"g":"N0","t":69,"s":0.564,"c":1},{"g":"N0","t":70,"s":0.564,"c":1},{"g":"N0","t":71.5,"s":0.564,"c":1},
  {"g":"N1","t":0,"s":1},{"g":"N1","t":1.8,"s":0.964},{"g":"N1","t":3,"s":0.929},{"g":"N1","t":4.5,"s":0.929,"c":1},{"g":"N1","t":5.3,"s":0.893},{"g":"N1","t":6.7,"s":0.857},{"g":"N1","t":7.2,"s":0.857,"c":1},{"g":"N1","t":10.2,"s":0.8},{"g":"N1","t":13.2,"s":0.8,"c":1},{"g":"N1","t":21.3,"s":0.76},{"g":"N1","t":22.7,"s":0.66},{"g":"N1","t":24,"s":0.66,"c":1},{"g":"N1","t":25.5,"s":0.66,"c":1},{"g":"N1","t":28,"s":0.66,"c":1},{"g":"N1","t":35,"s":0.66,"c":1},{"g":"N1","t":38,"s":0.66,"c":1},{"g":"N1","t":45,"s":0.66,"c":1},{"g":"N1","t":49,"s":0.66,"c":1},{"g":"N1","t":57,"s":0.66,"c":1},{"g":"N1","t":61,"s":0.66,"c":1},
  {"g":"NX","t":0,"s":1},{"g":"NX","t":0.5,"s":0.97},{"g":"NX","t":1.8,"s":0.94},{"g":"NX","t":2.5,"s":0.94,"c":1},{"g":"NX","t":3.2,"s":0.905},{"g":"NX","t":5.3,"s":0.857},{"g":"NX","t":6.7,"s":0.83},{"g":"NX","t":8.1,"s":0.79},{"g":"NX","t":9.5,"s":0.71},{"g":"NX","t":12.2,"s":0.64},{"g":"NX","t":13.6,"s":0.64,"c":1},{"g":"NX","t":14.3,"s":0.6},{"g":"NX","t":15.7,"s":0.49},{"g":"NX","t":17,"s":0.49,"c":1},{"g":"NX","t":19.5,"s":0.49,"c":1},{"g":"NX","t":21.5,"s":0.49,"c":1},{"g":"NX","t":28.2,"s":0.435},{"g":"NX","t":29.5,"s":0.435,"c":1},{"g":"NX","t":37,"s":0.435,"c":1},{"g":"NX","t":40,"s":0.435,"c":1},{"g":"NX","t":42.1,"s":0.265},{"g":"NX","t":53,"s":0.265,"c":1},{"g":"NX","t":54.7,"s":0.265,"c":1}
 ],
 "rh": [
  {"g":"N0","t":0,"n":345},{"g":"N0","t":20,"n":191},{"g":"N0","t":40,"n":95},{"g":"N0","t":60,"n":29},{"g":"N0","t":80,"n":0},
  {"g":"N1","t":0,"n":28},{"g":"N1","t":20,"n":17},{"g":"N1","t":40,"n":6},{"g":"N1","t":60,"n":1},{"g":"N1","t":80,"n":0},
  {"g":"NX","t":0,"n":33},{"g":"NX","t":20,"n":11},{"g":"NX","t":40,"n":6},{"g":"NX","t":60,"n":0},{"g":"NX","t":80,"n":0}
 ],
 "i": [
  {"g":"M0","t":0,"s":1},{"g":"M0","t":1.5,"s":1,"c":1},{"g":"M0","t":3.5,"s":0.983},{"g":"M0","t":5,"s":0.983,"c":1},{"g":"M0","t":6,"s":0.97},{"g":"M0","t":7.7,"s":0.955},{"g":"M0","t":9,"s":0.955,"c":1},{"g":"M0","t":11.2,"s":0.933},{"g":"M0","t":12.5,"s":0.933,"c":1},{"g":"M0","t":14.7,"s":0.905},{"g":"M0","t":16,"s":0.905,"c":1},{"g":"M0","t":17.5,"s":0.87},{"g":"M0","t":18.5,"s":0.87,"c":1},{"g":"M0","t":20.4,"s":0.857},{"g":"M0","t":22,"s":0.857,"c":1},{"g":"M0","t":24.6,"s":0.838},{"g":"M0","t":26,"s":0.838,"c":1},{"g":"M0","t":27,"s":0.825},{"g":"M0","t":28.8,"s":0.81},{"g":"M0","t":30,"s":0.81,"c":1},{"g":"M0","t":32,"s":0.8},{"g":"M0","t":33,"s":0.8,"c":1},{"g":"M0","t":34.4,"s":0.793},{"g":"M0","t":36,"s":0.793,"c":1},{"g":"M0","t":38.6,"s":0.774},{"g":"M0","t":40,"s":0.774,"c":1},{"g":"M0","t":41,"s":0.76},{"g":"M0","t":42.8,"s":0.746},{"g":"M0","t":44,"s":0.746,"c":1},{"g":"M0","t":45.5,"s":0.73},{"g":"M0","t":47,"s":0.718},{"g":"M0","t":48,"s":0.718,"c":1},{"g":"M0","t":50,"s":0.718,"c":1},{"g":"M0","t":51.2,"s":0.712},{"g":"M0","t":52.5,"s":0.712,"c":1},{"g":"M0","t":54,"s":0.712,"c":1},{"g":"M0","t":55.5,"s":0.712,"c":1},{"g":"M0","t":57,"s":0.712,"c":1},{"g":"M0","t":58.2,"s":0.69},{"g":"M0","t":59.5,"s":0.69,"c":1},{"g":"M0","t":61,"s":0.69,"c":1},{"g":"M0","t":62.5,"s":0.69,"c":1},{"g":"M0","t":63.9,"s":0.648},{"g":"M0","t":65,"s":0.648,"c":1},{"g":"M0","t":66,"s":0.648,"c":1},{"g":"M0","t":67,"s":0.648,"c":1},{"g":"M0","t":68,"s":0.648,"c":1},{"g":"M0","t":69,"s":0.648,"c":1},{"g":"M0","t":70,"s":0.648,"c":1},{"g":"M0","t":71.5,"s":0.648,"c":1},
  {"g":"M1","t":0,"s":1},{"g":"M1","t":1.4,"s":0.97},{"g":"M1","t":2.5,"s":0.97,"c":1},{"g":"M1","t":3.5,"s":0.95},{"g":"M1","t":4.5,"s":0.95,"c":1},{"g":"M1","t":5.6,"s":0.92},{"g":"M1","t":6.5,"s":0.92,"c":1},{"g":"M1","t":7.7,"s":0.9},{"g":"M1","t":9.1,"s":0.85},{"g":"M1","t":10.5,"s":0.788},{"g":"M1","t":11.9,"s":0.732},{"g":"M1","t":13,"s":0.732,"c":1},{"g":"M1","t":14.7,"s":0.704},{"g":"M1","t":16.1,"s":0.682},{"g":"M1","t":17,"s":0.682,"c":1},{"g":"M1","t":18.9,"s":0.648},{"g":"M1","t":20,"s":0.648,"c":1},{"g":"M1","t":21.8,"s":0.626},{"g":"M1","t":23.2,"s":0.592},{"g":"M1","t":25.3,"s":0.573},{"g":"M1","t":26.5,"s":0.573,"c":1},{"g":"M1","t":28.8,"s":0.55},{"g":"M1","t":30.2,"s":0.503},{"g":"M1","t":32,"s":0.503,"c":1},{"g":"M1","t":33.5,"s":0.503,"c":1},{"g":"M1","t":35.8,"s":0.488},{"g":"M1","t":37,"s":0.488,"c":1},{"g":"M1","t":38.6,"s":0.44},{"g":"M1","t":39.3,"s":0.41},{"g":"M1","t":43,"s":0.41,"c":1},{"g":"M1","t":45,"s":0.41,"c":1},{"g":"M1","t":46.5,"s":0.41,"c":1},{"g":"M1","t":47.5,"s":0.41,"c":1},{"g":"M1","t":51.5,"s":0.41,"c":1},{"g":"M1","t":53,"s":0.41,"c":1},{"g":"M1","t":54.5,"s":0.41,"c":1},{"g":"M1","t":56,"s":0.41,"c":1},{"g":"M1","t":60.5,"s":0.41,"c":1},{"g":"M1","t":64.1,"s":0.271},{"g":"M1","t":69.5,"s":0.271,"c":1},{"g":"M1","t":70.9,"s":0.271,"c":1}
 ],
 "ri": [
  {"g":"M0","t":0,"n":274},{"g":"M0","t":20,"n":156},{"g":"M0","t":40,"n":82},{"g":"M0","t":60,"n":26},{"g":"M0","t":80,"n":0},
  {"g":"M1","t":0,"n":132},{"g":"M1","t":20,"n":63},{"g":"M1","t":40,"n":25},{"g":"M1","t":60,"n":4},{"g":"M1","t":80,"n":0}
 ]
},
"resolve": {"scale": {"color": "independent"}, "legend": {"color": "independent"}},
"spacing": 34,
"vconcat": [
 {"hconcat": [
  {"width": 1, "height": 1, "data": {"values": []}, "mark": "point"},
  {"vconcat": [
   {"width": 205, "height": 132, "title": {"text": "a", "anchor": "start", "frame": "bounds", "font": "Liberation Serif", "fontSize": 17, "offset": -16}, "data": {"name": "a"},
    "encoding": {"x": {"field": "t", "type": "quantitative", "scale": {"domain": [-4, 84], "nice": false, "zero": false}, "axis": {"values": [0, 20, 40, 60, 80], "title": "Time"}},
     "y": {"field": "s", "type": "quantitative", "scale": {"domain": [-0.05, 1.05], "nice": false, "zero": false}, "axis": {"values": [0, 0.25, 0.5, 0.75, 1], "format": ".2f", "title": "Survival probability", "minExtent": 20, "maxExtent": 20, "titlePadding": 2}},
     "color": {"field": "g", "type": "nominal", "scale": {"domain": ["<=18", "19-27", ">=28"], "range": ["#F8766D", "#00BA38", "#619CFF"]}, "legend": {"title": "Age", "legendX": 52}}},
    "layer": [
     {"mark": {"type": "line", "interpolate": "step-after", "strokeWidth": 1}},
     {"transform": [{"filter": "datum.c == 1"}], "mark": {"type": "point", "shape": "M-1,0H1M0,-1V1", "filled": false, "size": 25, "strokeWidth": 0.9, "opacity": 1}},
     {"data": {"values": [{"p": "p < 0.0001"}]}, "mark": {"type": "text", "align": "left", "baseline": "middle", "fontSize": 8}, "encoding": {"x": {"datum": 1.43, "type": "quantitative"}, "y": {"datum": 0.2, "type": "quantitative"}, "text": {"field": "p"}, "color": {"value": "#000000"}}}
    ]},
   {"width": 205, "height": 20, "data": {"name": "ra"}, "resolve": {"scale": {"x": "independent"}},
    "layer": [
     {"mark": {"type": "text", "fontSize": 6.5, "color": "#000000"},
      "encoding": {"x": {"field": "t", "type": "quantitative", "scale": {"domain": [-4, 84], "nice": false, "zero": false}, "axis": {"values": [0, 20, 40, 60, 80], "title": "Time"}},
       "y": {"field": "g", "type": "nominal", "sort": ["<=18", "19-27", ">=28"], "scale": {"type": "point", "padding": 0.5}, "axis": {"title": "Age", "minExtent": 20, "maxExtent": 20, "titlePadding": 2, "labelFontSize": 7, "tickSize": 2, "labelColor": {"condition": [{"test": "datum.value === '19-27'", "value": "#00BA38"}, {"test": "datum.value === '>=28'", "value": "#619CFF"}], "value": "#F8766D"}}},
       "text": {"field": "n", "type": "quantitative"}}},
     {"mark": {"type": "rule", "opacity": 0}, "encoding": {"x": {"field": "t", "type": "quantitative", "scale": {"domain": [-4, 84], "nice": false, "zero": false}, "axis": {"orient": "top", "title": "Number at risk", "labels": false, "ticks": false, "domain": false, "titleAnchor": "start", "titleAlign": "left", "titleFontSize": 8.3, "titlePadding": 4, "minExtent": 0, "maxExtent": 0}}}}
    ]}
  ], "bounds": "flush", "spacing": 40, "resolve": {"scale": {"color": "independent"}, "legend": {"color": "independent"}}},
  {"width": 28.5, "height": 1, "data": {"values": []}, "mark": "point"},
  {"vconcat": [
   {"width": 179, "height": 132, "title": {"text": "b", "anchor": "start", "frame": "bounds", "font": "Liberation Serif", "fontSize": 17, "offset": -16}, "data": {"name": "b"},
    "encoding": {"x": {"field": "t", "type": "quantitative", "scale": {"domain": [-4, 84], "nice": false, "zero": false}, "axis": {"values": [0, 20, 40, 60, 80], "title": "Time"}},
     "y": {"field": "s", "type": "quantitative", "scale": {"domain": [-0.05, 1.05], "nice": false, "zero": false}, "axis": {"values": [0, 0.25, 0.5, 0.75, 1], "format": ".2f", "title": "Survival probability", "minExtent": 51, "maxExtent": 51, "titlePadding": 1}},
     "color": {"field": "g", "type": "nominal", "scale": {"domain": ["No or unknown", "Yes"], "range": ["#F8766D", "#00BFC4"]}, "legend": {"title": "Bone metastasis", "legendX": 28}}},
    "layer": [
     {"mark": {"type": "line", "interpolate": "step-after", "strokeWidth": 1}},
     {"transform": [{"filter": "datum.c == 1"}], "mark": {"type": "point", "shape": "M-1,0H1M0,-1V1", "filled": false, "size": 25, "strokeWidth": 0.9, "opacity": 1}},
     {"data": {"values": [{"p": "p < 0.0001"}]}, "mark": {"type": "text", "align": "left", "baseline": "middle", "fontSize": 8}, "encoding": {"x": {"datum": 1.43, "type": "quantitative"}, "y": {"datum": 0.2, "type": "quantitative"}, "text": {"field": "p"}, "color": {"value": "#000000"}}}
    ]},
   {"width": 179, "height": 20, "data": {"name": "rb"}, "resolve": {"scale": {"x": "independent"}},
    "layer": [
     {"mark": {"type": "text", "fontSize": 6.5, "color": "#000000"},
      "encoding": {"x": {"field": "t", "type": "quantitative", "scale": {"domain": [-4, 84], "nice": false, "zero": false}, "axis": {"values": [0, 20, 40, 60, 80], "title": "Time"}},
       "y": {"field": "g", "type": "nominal", "sort": ["No or unknown", "Yes"], "scale": {"type": "point", "padding": 0.5}, "axis": {"title": "Bone metastasis", "minExtent": 51, "maxExtent": 51, "titlePadding": 1, "labelFontSize": 7, "tickSize": 2, "labelColor": {"condition": {"test": "datum.value === 'Yes'", "value": "#00BFC4"}, "value": "#F8766D"}}},
       "text": {"field": "n", "type": "quantitative"}}},
     {"mark": {"type": "rule", "opacity": 0}, "encoding": {"x": {"field": "t", "type": "quantitative", "scale": {"domain": [-4, 84], "nice": false, "zero": false}, "axis": {"orient": "top", "title": "Number at risk", "labels": false, "ticks": false, "domain": false, "titleAnchor": "start", "titleAlign": "left", "titleFontSize": 8.3, "titlePadding": 4, "minExtent": 0, "maxExtent": 0}}}}
    ]}
  ], "bounds": "flush", "spacing": 40, "resolve": {"scale": {"color": "independent"}, "legend": {"color": "independent"}}},
  {"width": 30, "height": 1, "data": {"values": []}, "mark": "point"},
  {"vconcat": [
   {"width": 178, "height": 132, "title": {"text": "c", "anchor": "start", "frame": "bounds", "font": "Liberation Serif", "fontSize": 17, "offset": -16}, "data": {"name": "c"},
    "encoding": {"x": {"field": "t", "type": "quantitative", "scale": {"domain": [-4, 84], "nice": false, "zero": false}, "axis": {"values": [0, 20, 40, 60, 80], "title": "Time"}},
     "y": {"field": "s", "type": "quantitative", "scale": {"domain": [-0.05, 1.05], "nice": false, "zero": false}, "axis": {"values": [0, 0.25, 0.5, 0.75, 1], "format": ".2f", "title": "Survival probability", "minExtent": 51, "maxExtent": 51, "titlePadding": 1}},
     "color": {"field": "g", "type": "nominal", "scale": {"domain": ["No or unknown", "Yes"], "range": ["#F8766D", "#00BFC4"]}, "legend": {"title": "Brain metastasis", "legendX": 27}}},
    "layer": [
     {"mark": {"type": "line", "interpolate": "step-after", "strokeWidth": 1}},
     {"transform": [{"filter": "datum.c == 1"}], "mark": {"type": "point", "shape": "M-1,0H1M0,-1V1", "filled": false, "size": 25, "strokeWidth": 0.9, "opacity": 1}},
     {"data": {"values": [{"p": "p = 0.041"}]}, "mark": {"type": "text", "align": "left", "baseline": "middle", "fontSize": 8}, "encoding": {"x": {"datum": 1.43, "type": "quantitative"}, "y": {"datum": 0.2, "type": "quantitative"}, "text": {"field": "p"}, "color": {"value": "#000000"}}}
    ]},
   {"width": 178, "height": 20, "data": {"name": "rc"}, "resolve": {"scale": {"x": "independent"}},
    "layer": [
     {"mark": {"type": "text", "fontSize": 6.5, "color": "#000000"},
      "encoding": {"x": {"field": "t", "type": "quantitative", "scale": {"domain": [-4, 84], "nice": false, "zero": false}, "axis": {"values": [0, 20, 40, 60, 80], "title": "Time"}},
       "y": {"field": "g", "type": "nominal", "sort": ["No or unknown", "Yes"], "scale": {"type": "point", "padding": 0.5}, "axis": {"title": "Brain metastasis", "minExtent": 51, "maxExtent": 51, "titlePadding": 1, "labelFontSize": 7, "tickSize": 2, "labelColor": {"condition": {"test": "datum.value === 'Yes'", "value": "#00BFC4"}, "value": "#F8766D"}}},
       "text": {"field": "n", "type": "quantitative"}}},
     {"mark": {"type": "rule", "opacity": 0}, "encoding": {"x": {"field": "t", "type": "quantitative", "scale": {"domain": [-4, 84], "nice": false, "zero": false}, "axis": {"orient": "top", "title": "Number at risk", "labels": false, "ticks": false, "domain": false, "titleAnchor": "start", "titleAlign": "left", "titleFontSize": 8.3, "titlePadding": 4, "minExtent": 0, "maxExtent": 0}}}}
    ]}
  ], "bounds": "flush", "spacing": 40, "resolve": {"scale": {"color": "independent"}, "legend": {"color": "independent"}}}
 ], "spacing": 0, "resolve": {"scale": {"color": "independent"}, "legend": {"color": "independent"}}},
 {"hconcat": [
  {"width": 1, "height": 1, "data": {"values": []}, "mark": "point"},
  {"vconcat": [
   {"width": 176, "height": 132, "title": {"text": "d", "anchor": "start", "frame": "bounds", "font": "Liberation Serif", "fontSize": 17, "offset": -16}, "data": {"name": "d"},
    "encoding": {"x": {"field": "t", "type": "quantitative", "scale": {"domain": [-4, 84], "nice": false, "zero": false}, "axis": {"values": [0, 20, 40, 60, 80], "title": "Time"}},
     "y": {"field": "s", "type": "quantitative", "scale": {"domain": [-0.05, 1.05], "nice": false, "zero": false}, "axis": {"values": [0, 0.25, 0.5, 0.75, 1], "format": ".2f", "title": "Survival probability", "minExtent": 51, "maxExtent": 51, "titlePadding": 1}},
     "color": {"field": "g", "type": "nominal", "scale": {"domain": ["No or unknown", "Yes"], "range": ["#F8766D", "#00BFC4"]}, "legend": {"title": "Liver metastasis", "legendX": 26}}},
    "layer": [
     {"mark": {"type": "line", "interpolate": "step-after", "strokeWidth": 1}},
     {"transform": [{"filter": "datum.c == 1"}], "mark": {"type": "point", "shape": "M-1,0H1M0,-1V1", "filled": false, "size": 25, "strokeWidth": 0.9, "opacity": 1}},
     {"data": {"values": [{"p": "p < 0.0001"}]}, "mark": {"type": "text", "align": "left", "baseline": "middle", "fontSize": 8}, "encoding": {"x": {"datum": 1.43, "type": "quantitative"}, "y": {"datum": 0.2, "type": "quantitative"}, "text": {"field": "p"}, "color": {"value": "#000000"}}}
    ]},
   {"width": 176, "height": 20, "data": {"name": "rd"}, "resolve": {"scale": {"x": "independent"}},
    "layer": [
     {"mark": {"type": "text", "fontSize": 6.5, "color": "#000000"},
      "encoding": {"x": {"field": "t", "type": "quantitative", "scale": {"domain": [-4, 84], "nice": false, "zero": false}, "axis": {"values": [0, 20, 40, 60, 80], "title": "Time"}},
       "y": {"field": "g", "type": "nominal", "sort": ["No or unknown", "Yes"], "scale": {"type": "point", "padding": 0.5}, "axis": {"title": "Liver metastasis", "minExtent": 51, "maxExtent": 51, "titlePadding": 1, "labelFontSize": 7, "tickSize": 2, "labelColor": {"condition": {"test": "datum.value === 'Yes'", "value": "#00BFC4"}, "value": "#F8766D"}}},
       "text": {"field": "n", "type": "quantitative"}}},
     {"mark": {"type": "rule", "opacity": 0}, "encoding": {"x": {"field": "t", "type": "quantitative", "scale": {"domain": [-4, 84], "nice": false, "zero": false}, "axis": {"orient": "top", "title": "Number at risk", "labels": false, "ticks": false, "domain": false, "titleAnchor": "start", "titleAlign": "left", "titleFontSize": 8.3, "titlePadding": 4, "minExtent": 0, "maxExtent": 0}}}}
    ]}
  ], "bounds": "flush", "spacing": 40, "resolve": {"scale": {"color": "independent"}, "legend": {"color": "independent"}}},
  {"width": 28.5, "height": 1, "data": {"values": []}, "mark": "point"},
  {"vconcat": [
   {"width": 179, "height": 132, "title": {"text": "e", "anchor": "start", "frame": "bounds", "font": "Liberation Serif", "fontSize": 17, "offset": -16}, "data": {"name": "e"},
    "encoding": {"x": {"field": "t", "type": "quantitative", "scale": {"domain": [-4, 84], "nice": false, "zero": false}, "axis": {"values": [0, 20, 40, 60, 80], "title": "Time"}},
     "y": {"field": "s", "type": "quantitative", "scale": {"domain": [-0.05, 1.05], "nice": false, "zero": false}, "axis": {"values": [0, 0.25, 0.5, 0.75, 1], "format": ".2f", "title": "Survival probability", "minExtent": 51, "maxExtent": 51, "titlePadding": 1}},
     "color": {"field": "g", "type": "nominal", "scale": {"domain": ["No or unknown", "Yes"], "range": ["#F8766D", "#00BFC4"]}, "legend": {"title": "Lung metastasis", "legendX": 28}}},
    "layer": [
     {"mark": {"type": "line", "interpolate": "step-after", "strokeWidth": 1}},
     {"transform": [{"filter": "datum.c == 1"}], "mark": {"type": "point", "shape": "M-1,0H1M0,-1V1", "filled": false, "size": 25, "strokeWidth": 0.9, "opacity": 1}},
     {"data": {"values": [{"p": "p = 0.00033"}]}, "mark": {"type": "text", "align": "left", "baseline": "middle", "fontSize": 8}, "encoding": {"x": {"datum": 1.43, "type": "quantitative"}, "y": {"datum": 0.2, "type": "quantitative"}, "text": {"field": "p"}, "color": {"value": "#000000"}}}
    ]},
   {"width": 179, "height": 20, "data": {"name": "re"}, "resolve": {"scale": {"x": "independent"}},
    "layer": [
     {"mark": {"type": "text", "fontSize": 6.5, "color": "#000000"},
      "encoding": {"x": {"field": "t", "type": "quantitative", "scale": {"domain": [-4, 84], "nice": false, "zero": false}, "axis": {"values": [0, 20, 40, 60, 80], "title": "Time"}},
       "y": {"field": "g", "type": "nominal", "sort": ["No or unknown", "Yes"], "scale": {"type": "point", "padding": 0.5}, "axis": {"title": "Lung metastasis", "minExtent": 51, "maxExtent": 51, "titlePadding": 1, "labelFontSize": 7, "tickSize": 2, "labelColor": {"condition": {"test": "datum.value === 'Yes'", "value": "#00BFC4"}, "value": "#F8766D"}}},
       "text": {"field": "n", "type": "quantitative"}}},
     {"mark": {"type": "rule", "opacity": 0}, "encoding": {"x": {"field": "t", "type": "quantitative", "scale": {"domain": [-4, 84], "nice": false, "zero": false}, "axis": {"orient": "top", "title": "Number at risk", "labels": false, "ticks": false, "domain": false, "titleAnchor": "start", "titleAlign": "left", "titleFontSize": 8.3, "titlePadding": 4, "minExtent": 0, "maxExtent": 0}}}}
    ]}
  ], "bounds": "flush", "spacing": 40, "resolve": {"scale": {"color": "independent"}, "legend": {"color": "independent"}}},
  {"width": 29.5, "height": 1, "data": {"values": []}, "mark": "point"},
  {"vconcat": [
   {"width": 170, "height": 132, "title": {"text": "f", "anchor": "start", "frame": "bounds", "font": "Liberation Serif", "fontSize": 17, "offset": -16}, "data": {"name": "f"},
    "encoding": {"x": {"field": "t", "type": "quantitative", "scale": {"domain": [-4, 84], "nice": false, "zero": false}, "axis": {"values": [0, 20, 40, 60, 80], "title": "Time"}},
     "y": {"field": "s", "type": "quantitative", "scale": {"domain": [-0.05, 1.05], "nice": false, "zero": false}, "axis": {"values": [0, 0.25, 0.5, 0.75, 1], "format": ".2f", "title": "Survival probability", "minExtent": 58, "maxExtent": 58, "titlePadding": 2}},
     "color": {"field": "g", "type": "nominal", "scale": {"domain": ["II", "III", "IV", "other or unknown"], "range": ["#F8766D", "#7CAE00", "#00BFC4", "#C77CFF"]}, "legend": {"title": "Tumor stage", "legendX": 6}}},
    "layer": [
     {"mark": {"type": "line", "interpolate": "step-after", "strokeWidth": 1}},
     {"transform": [{"filter": "datum.c == 1"}], "mark": {"type": "point", "shape": "M-1,0H1M0,-1V1", "filled": false, "size": 25, "strokeWidth": 0.9, "opacity": 1}},
     {"data": {"values": [{"p": "p < 0.0001"}]}, "mark": {"type": "text", "align": "left", "baseline": "middle", "fontSize": 8}, "encoding": {"x": {"datum": 1.43, "type": "quantitative"}, "y": {"datum": 0.2, "type": "quantitative"}, "text": {"field": "p"}, "color": {"value": "#000000"}}}
    ]},
   {"width": 170, "height": 20, "data": {"name": "rf"}, "resolve": {"scale": {"x": "independent"}},
    "layer": [
     {"mark": {"type": "text", "fontSize": 6.5, "color": "#000000"},
      "encoding": {"x": {"field": "t", "type": "quantitative", "scale": {"domain": [-4, 84], "nice": false, "zero": false}, "axis": {"values": [0, 20, 40, 60, 80], "title": "Time"}},
       "y": {"field": "g", "type": "nominal", "sort": ["II", "III", "IV", "other or unknown"], "scale": {"type": "point", "padding": 0.5}, "axis": {"title": "Tumor stage", "minExtent": 58, "maxExtent": 58, "titlePadding": 2, "labelFontSize": 7, "tickSize": 2, "labelColor": {"condition": [{"test": "datum.value === 'III'", "value": "#7CAE00"}, {"test": "datum.value === 'IV'", "value": "#00BFC4"}, {"test": "datum.value === 'other or unknown'", "value": "#C77CFF"}], "value": "#F8766D"}}},
       "text": {"field": "n", "type": "quantitative"}}},
     {"mark": {"type": "rule", "opacity": 0}, "encoding": {"x": {"field": "t", "type": "quantitative", "scale": {"domain": [-4, 84], "nice": false, "zero": false}, "axis": {"orient": "top", "title": "Number at risk", "labels": false, "ticks": false, "domain": false, "titleAnchor": "start", "titleAlign": "left", "titleFontSize": 8.3, "titlePadding": 4, "minExtent": 0, "maxExtent": 0}}}}
    ]}
  ], "bounds": "flush", "spacing": 40, "resolve": {"scale": {"color": "independent"}, "legend": {"color": "independent"}}}
 ], "spacing": 0, "resolve": {"scale": {"color": "independent"}, "legend": {"color": "independent"}}},
 {"hconcat": [
  {"width": 1, "height": 1, "data": {"values": []}, "mark": "point"},
  {"vconcat": [
   {"width": 205, "height": 132, "title": {"text": "g", "anchor": "start", "frame": "bounds", "font": "Liberation Serif", "fontSize": 17, "offset": -16}, "data": {"name": "g"},
    "encoding": {"x": {"field": "t", "type": "quantitative", "scale": {"domain": [-4, 84], "nice": false, "zero": false}, "axis": {"values": [0, 20, 40, 60, 80], "title": "Time"}},
     "y": {"field": "s", "type": "quantitative", "scale": {"domain": [-0.05, 1.05], "nice": false, "zero": false}, "axis": {"values": [0, 0.25, 0.5, 0.75, 1], "format": ".2f", "title": "Survival probability", "minExtent": 20, "maxExtent": 20, "titlePadding": 2}},
     "color": {"field": "g", "type": "nominal", "scale": {"domain": ["T0-T1", "T2", "T3", "TX"], "range": ["#F8766D", "#7CAE00", "#00BFC4", "#C77CFF"]}, "legend": {"title": "T stage", "legendX": 51}}},
    "layer": [
     {"mark": {"type": "line", "interpolate": "step-after", "strokeWidth": 1}},
     {"transform": [{"filter": "datum.c == 1"}], "mark": {"type": "point", "shape": "M-1,0H1M0,-1V1", "filled": false, "size": 25, "strokeWidth": 0.9, "opacity": 1}},
     {"data": {"values": [{"p": "p < 0.0001"}]}, "mark": {"type": "text", "align": "left", "baseline": "middle", "fontSize": 8}, "encoding": {"x": {"datum": 1.43, "type": "quantitative"}, "y": {"datum": 0.2, "type": "quantitative"}, "text": {"field": "p"}, "color": {"value": "#000000"}}}
    ]},
   {"width": 205, "height": 20, "data": {"name": "rg"}, "resolve": {"scale": {"x": "independent"}},
    "layer": [
     {"mark": {"type": "text", "fontSize": 6.5, "color": "#000000"},
      "encoding": {"x": {"field": "t", "type": "quantitative", "scale": {"domain": [-4, 84], "nice": false, "zero": false}, "axis": {"values": [0, 20, 40, 60, 80], "title": "Time"}},
       "y": {"field": "g", "type": "nominal", "sort": ["T0-T1", "T2", "T3", "TX"], "scale": {"type": "point", "padding": 0.5}, "axis": {"title": "T stage", "minExtent": 20, "maxExtent": 20, "titlePadding": 2, "labelFontSize": 7, "tickSize": 2, "labelColor": {"condition": [{"test": "datum.value === 'T2'", "value": "#7CAE00"}, {"test": "datum.value === 'T3'", "value": "#00BFC4"}, {"test": "datum.value === 'TX'", "value": "#C77CFF"}], "value": "#F8766D"}}},
       "text": {"field": "n", "type": "quantitative"}}},
     {"mark": {"type": "rule", "opacity": 0}, "encoding": {"x": {"field": "t", "type": "quantitative", "scale": {"domain": [-4, 84], "nice": false, "zero": false}, "axis": {"orient": "top", "title": "Number at risk", "labels": false, "ticks": false, "domain": false, "titleAnchor": "start", "titleAlign": "left", "titleFontSize": 8.3, "titlePadding": 4, "minExtent": 0, "maxExtent": 0}}}}
    ]}
  ], "bounds": "flush", "spacing": 40, "resolve": {"scale": {"color": "independent"}, "legend": {"color": "independent"}}},
  {"width": 29.5, "height": 1, "data": {"values": []}, "mark": "point"},
  {"vconcat": [
   {"width": 207, "height": 132, "title": {"text": "h", "anchor": "start", "frame": "bounds", "font": "Liberation Serif", "fontSize": 17, "offset": -16}, "data": {"name": "h"},
    "encoding": {"x": {"field": "t", "type": "quantitative", "scale": {"domain": [-4, 84], "nice": false, "zero": false}, "axis": {"values": [0, 20, 40, 60, 80], "title": "Time"}},
     "y": {"field": "s", "type": "quantitative", "scale": {"domain": [-0.05, 1.05], "nice": false, "zero": false}, "axis": {"values": [0, 0.25, 0.5, 0.75, 1], "format": ".2f", "title": "Survival probability", "minExtent": 20, "maxExtent": 20, "titlePadding": 3}},
     "color": {"field": "g", "type": "nominal", "scale": {"domain": ["N0", "N1", "NX"], "range": ["#F8766D", "#00BA38", "#619CFF"]}, "legend": {"title": "N stage", "legendX": 57}}},
    "layer": [
     {"mark": {"type": "line", "interpolate": "step-after", "strokeWidth": 1}},
     {"transform": [{"filter": "datum.c == 1"}], "mark": {"type": "point", "shape": "M-1,0H1M0,-1V1", "filled": false, "size": 25, "strokeWidth": 0.9, "opacity": 1}},
     {"data": {"values": [{"p": "p < 0.0001"}]}, "mark": {"type": "text", "align": "left", "baseline": "middle", "fontSize": 8}, "encoding": {"x": {"datum": 1.43, "type": "quantitative"}, "y": {"datum": 0.2, "type": "quantitative"}, "text": {"field": "p"}, "color": {"value": "#000000"}}}
    ]},
   {"width": 207, "height": 20, "data": {"name": "rh"}, "resolve": {"scale": {"x": "independent"}},
    "layer": [
     {"mark": {"type": "text", "fontSize": 6.5, "color": "#000000"},
      "encoding": {"x": {"field": "t", "type": "quantitative", "scale": {"domain": [-4, 84], "nice": false, "zero": false}, "axis": {"values": [0, 20, 40, 60, 80], "title": "Time"}},
       "y": {"field": "g", "type": "nominal", "sort": ["N0", "N1", "NX"], "scale": {"type": "point", "padding": 0.5}, "axis": {"title": "N stage", "minExtent": 20, "maxExtent": 20, "titlePadding": 3, "labelFontSize": 7, "tickSize": 2, "labelColor": {"condition": [{"test": "datum.value === 'N1'", "value": "#00BA38"}, {"test": "datum.value === 'NX'", "value": "#619CFF"}], "value": "#F8766D"}}},
       "text": {"field": "n", "type": "quantitative"}}},
     {"mark": {"type": "rule", "opacity": 0}, "encoding": {"x": {"field": "t", "type": "quantitative", "scale": {"domain": [-4, 84], "nice": false, "zero": false}, "axis": {"orient": "top", "title": "Number at risk", "labels": false, "ticks": false, "domain": false, "titleAnchor": "start", "titleAlign": "left", "titleFontSize": 8.3, "titlePadding": 4, "minExtent": 0, "maxExtent": 0}}}}
    ]}
  ], "bounds": "flush", "spacing": 40, "resolve": {"scale": {"color": "independent"}, "legend": {"color": "independent"}}},
  {"width": 29.5, "height": 1, "data": {"values": []}, "mark": "point"},
  {"vconcat": [
   {"width": 208, "height": 132, "title": {"text": "i", "anchor": "start", "frame": "bounds", "font": "Liberation Serif", "fontSize": 17, "offset": -16}, "data": {"name": "i"},
    "encoding": {"x": {"field": "t", "type": "quantitative", "scale": {"domain": [-4, 84], "nice": false, "zero": false}, "axis": {"values": [0, 20, 40, 60, 80], "title": "Time"}},
     "y": {"field": "s", "type": "quantitative", "scale": {"domain": [-0.05, 1.05], "nice": false, "zero": false}, "axis": {"values": [0, 0.25, 0.5, 0.75, 1], "format": ".2f", "title": "Survival probability", "minExtent": 20, "maxExtent": 20, "titlePadding": 2}},
     "color": {"field": "g", "type": "nominal", "scale": {"domain": ["M0", "M1"], "range": ["#F8766D", "#00BFC4"]}, "legend": {"title": "M stage", "legendX": 69}}},
    "layer": [
     {"mark": {"type": "line", "interpolate": "step-after", "strokeWidth": 1}},
     {"transform": [{"filter": "datum.c == 1"}], "mark": {"type": "point", "shape": "M-1,0H1M0,-1V1", "filled": false, "size": 25, "strokeWidth": 0.9, "opacity": 1}},
     {"data": {"values": [{"p": "p < 0.0001"}]}, "mark": {"type": "text", "align": "left", "baseline": "middle", "fontSize": 8}, "encoding": {"x": {"datum": 1.43, "type": "quantitative"}, "y": {"datum": 0.2, "type": "quantitative"}, "text": {"field": "p"}, "color": {"value": "#000000"}}}
    ]},
   {"width": 208, "height": 20, "data": {"name": "ri"}, "resolve": {"scale": {"x": "independent"}},
    "layer": [
     {"mark": {"type": "text", "fontSize": 6.5, "color": "#000000"},
      "encoding": {"x": {"field": "t", "type": "quantitative", "scale": {"domain": [-4, 84], "nice": false, "zero": false}, "axis": {"values": [0, 20, 40, 60, 80], "title": "Time"}},
       "y": {"field": "g", "type": "nominal", "sort": ["M0", "M1"], "scale": {"type": "point", "padding": 0.5}, "axis": {"title": "M stage", "minExtent": 20, "maxExtent": 20, "titlePadding": 2, "labelFontSize": 7, "tickSize": 2, "labelColor": {"condition": {"test": "datum.value === 'M1'", "value": "#00BFC4"}, "value": "#F8766D"}}},
       "text": {"field": "n", "type": "quantitative"}}},
     {"mark": {"type": "rule", "opacity": 0}, "encoding": {"x": {"field": "t", "type": "quantitative", "scale": {"domain": [-4, 84], "nice": false, "zero": false}, "axis": {"orient": "top", "title": "Number at risk", "labels": false, "ticks": false, "domain": false, "titleAnchor": "start", "titleAlign": "left", "titleFontSize": 8.3, "titlePadding": 4, "minExtent": 0, "maxExtent": 0}}}}
    ]}
  ], "bounds": "flush", "spacing": 40, "resolve": {"scale": {"color": "independent"}, "legend": {"color": "independent"}}}
 ], "spacing": 0, "resolve": {"scale": {"color": "independent"}, "legend": {"color": "independent"}}}
]
}
